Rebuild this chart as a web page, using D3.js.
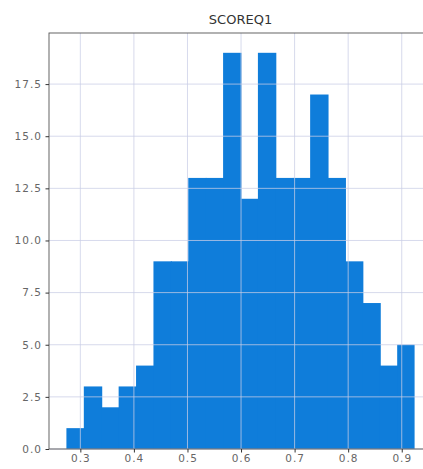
<!DOCTYPE html>
<html>
<head>
<meta charset="utf-8">
<script src="https://cdn.jsdelivr.net/npm/d3@7"></script>
<style>
  html, body { margin: 0; padding: 0; background: #fff; }
  svg { display: block; }
</style>
</head>
<body>
<script>
// Histogram of SCOREQ1, 20 equal-width bins
const title = "SCOREQ1";
const binStart = 0.274;
const binEnd = 0.924;
const counts = [1, 3, 2, 3, 4, 9, 9, 13, 13, 19, 12, 19, 13, 13, 17, 13, 9, 7, 4, 5];
const xTicks = [0.3, 0.4, 0.5, 0.6, 0.7, 0.8, 0.9];
const yTicks = [0, 2.5, 5, 7.5, 10, 12.5, 15, 17.5];

const W = 423, H = 469;
const plotLeft = 49, plotRight = 432, plotTop = 33, plotBottom = 449;

const binW = (binEnd - binStart) / counts.length;
const bins = counts.map((c, i) => ({ x0: binStart + i * binW, x1: binStart + (i + 1) * binW, n: c }));

const pad = (binEnd - binStart) * 0.05;
const x = d3.scaleLinear().domain([binStart - pad, binEnd + pad]).range([plotLeft, plotRight]);
const y = d3.scaleLinear().domain([0, d3.max(counts) * 1.05]).range([plotBottom, plotTop]);

const svg = d3.select("body").append("svg").attr("width", W).attr("height", H);

const font = "'DejaVu Sans', sans-serif";

// bars (each overlaps the next slightly so no seams show)
svg.append("g").selectAll("rect").data(bins).join("rect")
  .attr("x", d => x(d.x0))
  .attr("width", (d, i) => x(d.x1) - x(d.x0) + (i < bins.length - 1 ? 1 : 0))
  .attr("y", d => y(d.n))
  .attr("height", d => y(0) - y(d.n))
  .attr("fill", "#0f7dda");

// grid lines over the bars
const grid = svg.append("g").attr("stroke", "#c9cde6").attr("stroke-opacity", 0.75).attr("stroke-width", 1);
grid.selectAll(".gx").data(xTicks).join("line")
  .attr("x1", d => x(d)).attr("x2", d => x(d))
  .attr("y1", plotTop).attr("y2", plotBottom);
grid.selectAll(".gy").data(yTicks).join("line")
  .attr("x1", plotLeft).attr("x2", plotRight)
  .attr("y1", d => y(d)).attr("y2", d => y(d));

// spines
svg.append("rect")
  .attr("x", plotLeft).attr("y", plotTop)
  .attr("width", plotRight - plotLeft).attr("height", plotBottom - plotTop)
  .attr("fill", "none").attr("stroke", "#555").attr("stroke-width", 0.9);

// axes
const xAxis = d3.axisBottom(x).tickValues(xTicks).tickFormat(d3.format(".1f")).tickSize(3.5);
const yAxis = d3.axisLeft(y).tickValues(yTicks).tickFormat(d3.format(".1f")).tickSize(3.5);

const gx = svg.append("g").attr("transform", `translate(0,${plotBottom})`).call(xAxis);
const gy = svg.append("g").attr("transform", `translate(${plotLeft},0)`).call(yAxis);
[gx, gy].forEach(g => {
  g.select(".domain").remove();
  g.selectAll(".tick line").attr("stroke", "#333");
  g.selectAll(".tick text").attr("fill", "#666")
    .style("font-family", font).style("font-size", "10.5px").style("letter-spacing", "1px");
});
gx.selectAll(".tick text").attr("dy", "0.62em");
gy.selectAll(".tick text").attr("x", -7);

// title
svg.append("text")
  .attr("x", (plotLeft + plotRight) / 2).attr("y", 24)
  .attr("text-anchor", "middle")
  .style("font-family", font).style("font-size", "13px").attr("fill", "#333")
  .text(title);
</script>
</body>
</html>
